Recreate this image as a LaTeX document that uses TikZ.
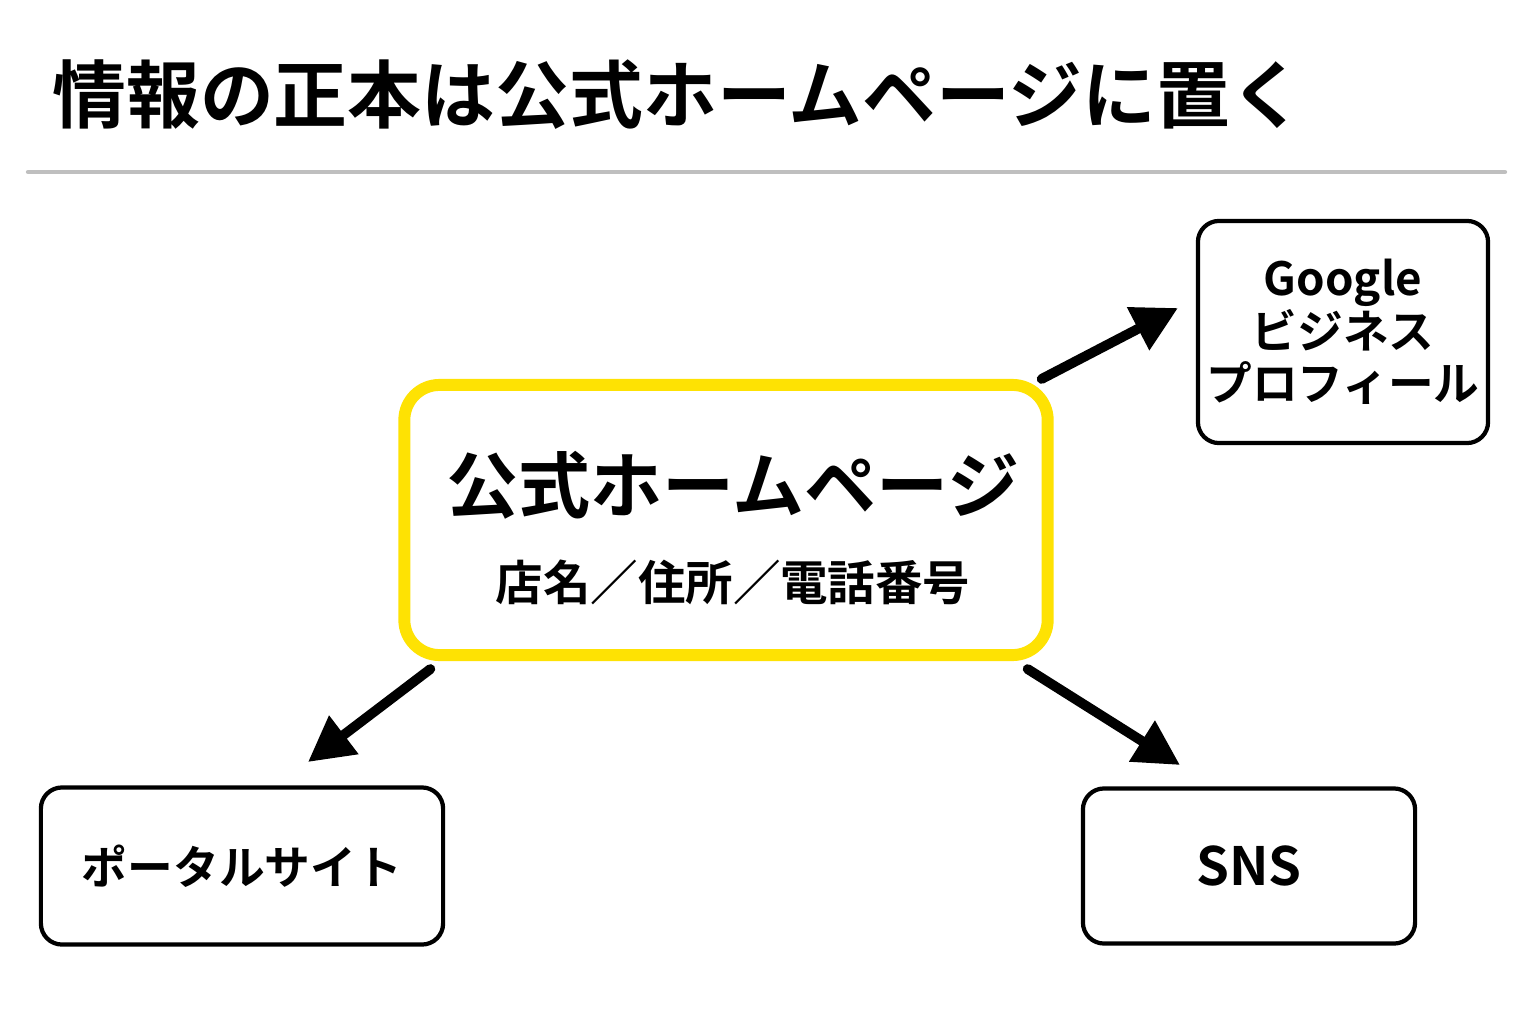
\documentclass[tikz,border=0pt]{standalone}
\usepackage{fontspec}
\setmainfont{Noto Sans CJK JP}[BoldFont={* Bold}]
\usetikzlibrary{arrows.meta}
\begin{document}
\begin{tikzpicture}
		[x=0.01cm,y=-0.01cm,line cap=round,
		%Styles
		site box/.style={draw=black,line width=1.2pt,rounded corners=6pt,fill=white},
		main box/.style={draw=yellow!85!orange,line width=3.4pt,rounded corners=10pt,fill=white},
		flow/.style={line width=2.8pt,-{Triangle[length=0.45cm,width=0.46cm]}},
		label text/.style={font=\fontsize{13}{16}\selectfont\bfseries,align=center}
		]
		
		\useasboundingbox (0,0) rectangle (1536,1024);
		
		%Title
		\node[anchor=west,font=\fontsize{21}{24}\selectfont\bfseries] (title) at (40,95) {情報の正本は公式ホームページに置く};
		\draw[line width=1.2pt,black!25] (28,172) -- (1505,172);
		
		%The graphic
		\node[main box,minimum width=6.43cm,minimum height=2.7cm] (home) at (726,520) {};
		\node[font=\fontsize{20.5}{24}\selectfont\bfseries] (homename) at (733,485) {公式ホームページ};
		\node[font=\fontsize{13.5}{16}\selectfont\bfseries] (homeinfo) at (733,582) {店名／住所／電話番号};
		
		\node[site box,label text,minimum width=2.9cm,minimum height=2.22cm,inner sep=0pt] (gbp) at (1343,332)
			{\fontsize{13}{16}\selectfont Google\\[-1pt]ビジネス\\[-1pt]プロフィール};
		\node[site box,label text,minimum width=4.02cm,minimum height=1.57cm] (portal) at (242,866) {ポータルサイト};
		\node[site box,label text,minimum width=3.32cm,minimum height=1.55cm,font=\fontsize{15}{18}\selectfont\bfseries] (sns) at (1249,866) {SNS};
		
		\coordinate (gbpend) at (1178,308);
		\coordinate (portalend) at (308,762);
		\coordinate (snsend) at (1180,765);
		
		\draw[flow] (home.north east) ++(-12,0) -- (gbpend);
		\draw[flow] (home.south west) ++(32,8) -- (portalend);
		\draw[flow] (home.south east) ++(-26,8) -- (snsend);
	\end{tikzpicture}
\end{document}
